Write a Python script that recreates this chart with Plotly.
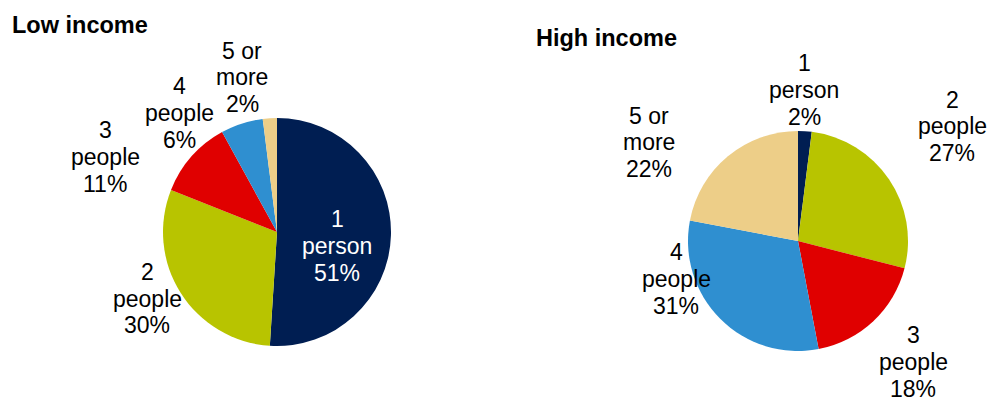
import plotly.graph_objects as go

W, H = 988, 400

categories = ["1 person", "2 people", "3 people", "4 people", "5 or more"]
low_income = [51, 30, 11, 6, 2]
high_income = [2, 27, 18, 31, 22]
colors = ["#001E52", "#B8C400", "#E00000", "#2F8FD0", "#EDCE88"]

# category labels split over two lines, value added as a third line
label_lines = [["1", "person"], ["2", "people"], ["3", "people"], ["4", "people"], ["5 or", "more"]]

# pie geometry in pixels: (centre x, centre y from top, radius)
pies = {
    "Low income": dict(values=low_income, cx=277, cy=232, r=114),
    "High income": dict(values=high_income, cx=798, cy=241, r=110),
}

# label block centres (pixels from top-left), one per slice
label_pos = {
    "Low income": [(337, 246), (147, 298.5), (105, 157), (179, 113), (242, 77.5)],
    "High income": [(804, 90), (952, 126.5), (913, 362), (676, 279), (649, 142.5)],
}
label_color = {
    "Low income": ["white", "black", "black", "black", "black"],
    "High income": ["black"] * 5,
}
LINE_STEP = 26.8
FONT = "Liberation Sans, Arial, sans-serif"
titles = [("Low income", 10, 25), ("High income", 534, 38)]

fig = go.Figure()
for name, p in pies.items():
    fig.add_trace(go.Pie(
        labels=categories,
        values=p["values"],
        marker=dict(colors=colors, line=dict(width=0)),
        sort=False,
        direction="clockwise",
        rotation=0,
        textinfo="none",
        hoverinfo="label+percent",
        showlegend=False,
        domain=dict(
            x=[(p["cx"] - p["r"]) / W, (p["cx"] + p["r"]) / W],
            y=[(H - p["cy"] - p["r"]) / H, (H - p["cy"] + p["r"]) / H],
        ),
    ))

annotations = []
for name, p in pies.items():
    for lines, val, (x, y), col in zip(label_lines, p["values"], label_pos[name], label_color[name]):
        rows = lines + [f"{val}%"]
        for i, row in enumerate(rows):
            yy = y + (i - 1) * LINE_STEP
            annotations.append(dict(
                x=x / W, y=1 - yy / H, xref="paper", yref="paper",
                text=row, showarrow=False,
                xanchor="center", yanchor="middle", align="center",
                font=dict(family=FONT, size=23, color=col),
            ))
for text, x, y in titles:
    annotations.append(dict(
        x=x / W, y=1 - y / H, xref="paper", yref="paper",
        text=f"<b>{text}</b>", showarrow=False,
        xanchor="left", yanchor="middle",
        font=dict(family=FONT, size=23.5, color="black"),
    ))

fig.update_layout(
    width=W, height=H,
    margin=dict(l=0, r=0, t=0, b=0),
    paper_bgcolor="white",
    plot_bgcolor="white",
    annotations=annotations,
)

fig.write_html("out.html")
